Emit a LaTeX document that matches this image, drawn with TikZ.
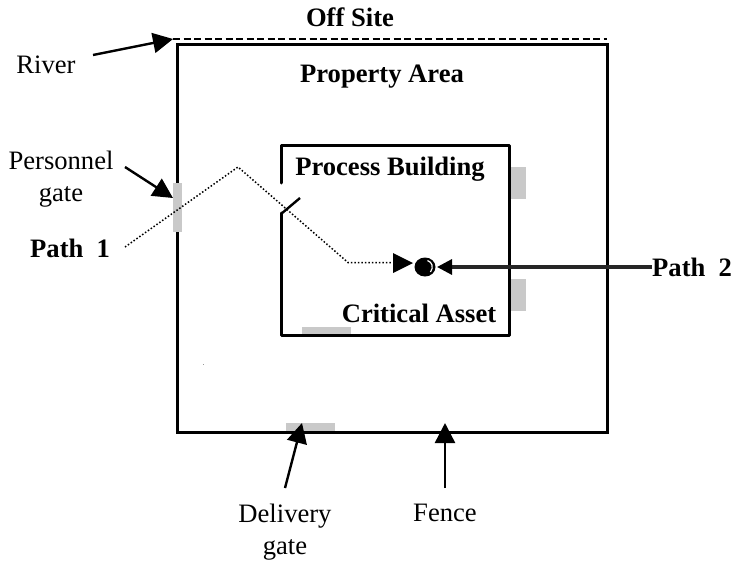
\documentclass[tikz,border=0pt]{standalone}
\usepackage{fontspec}
\setmainfont{Liberation Serif}
\usetikzlibrary{arrows.meta,shapes.geometric}
\tikzset{
  x=1pt,y=-1pt,
  lbl/.style={font=\fontsize{26.6}{30}\selectfont,inner sep=0pt,align=center},
  blbl/.style={font=\fontsize{26.6}{30}\selectfont\bfseries,inner sep=0pt,align=center},
  wall/.style={draw=black,line width=2.6pt},
  gatebox/.style={fill=black!21,draw=none},
  pointer/.style={draw=black,line width=2.4pt,-{Triangle[length=20pt,width=20pt]}},
  route/.style={draw=black,line width=1.5pt,dash pattern=on 1.5pt off 2pt},
}
\begin{document}
\begin{tikzpicture}
\useasboundingbox (0,0) rectangle (734,562);
% labels
\node[blbl] (offsite) at (350,17) {Off Site};
\node[lbl] (river) at (46,65) {River};
\node[blbl] (property) at (382,77) {Property Area};
\node[lbl] (personnel) at (61,179) {Personnel\\[2pt]gate};
\node[blbl,anchor=west] (path1) at (30,248) {Path\ \ 1};
\node[blbl] (process) at (390,169) {Process Building};
\node[blbl] (asset) at (419,313) {Critical Asset};
\node[blbl,anchor=west] (path2) at (652,267) {Path\ \ 2};
\node[lbl] (delivery) at (285,532) {Delivery\\[2pt]gate};
\node[lbl] (fencelbl) at (445,513) {Fence};
% coordinates
\coordinate (rivera) at (173,39);
\coordinate (riverb) at (607,39);
\coordinate (riverstart) at (93,55);
\coordinate (pstart) at (125,167);
\coordinate (ptip) at (173,198);
\coordinate (dstart) at (285,488);
\coordinate (dtip) at (302,423);
\coordinate (fstart) at (445,488);
\coordinate (ftip) at (445,423);
\coordinate (r0) at (125,247);
\coordinate (r1) at (238,167);
\coordinate (r2) at (348,262.5);
\coordinate (r3) at (391,262.5);
\coordinate (r4) at (413,263);
\coordinate (p2tip) at (437,267);
% fence and building
\draw[wall] (177.5,44.5) rectangle (607.5,432.5);
\draw[wall,line width=3pt,line cap=round,line join=round] (281.5,183) -- (281.5,145.5) -- (509.5,145.5) -- (509.5,335.5) -- (281.5,335.5) -- (281.5,213);
\draw[draw=black,line width=2.4pt] (281,214) -- (300,198);
% gates
\fill[gatebox] (173,183) rectangle (182,232);
\fill[gatebox] (511,167) rectangle (526,199);
\fill[gatebox] (511,279) rectangle (526,311);
\fill[gatebox] (302,327) rectangle (351,334);
\fill[gatebox] (286,423) rectangle (335,431);
\fill[black!40] (202.5,363.5) rectangle (204,365);
% river
\draw[draw=black,line width=1.5pt,dash pattern=on 7pt off 3.5pt] (rivera) -- (riverb);
% pointers
\draw[pointer] (riverstart) -- (rivera);
\draw[pointer] (pstart) -- (ptip);
\draw[pointer] (dstart) -- (dtip);
\draw[pointer] (fstart) -- (ftip);
% paths
\draw[route] (r0) -- (r1) -- (r2) -- (r3);
\draw[draw=none,fill=black] (393,253) -- (r4) -- (393,273) -- cycle;
\draw[draw=black!85,line width=3.2pt,-{Triangle[length=15pt,width=15pt,black]}] (path2.west) -- (p2tip);
% asset
\node[ellipse,fill=black,minimum width=21pt,minimum height=19pt,inner sep=0pt,outer sep=0pt] (target) at (425,267) {};
\draw[white,line width=1.2pt] (427.5,260.5) .. controls (432,262) and (434,267) .. (430.5,272);
\end{tikzpicture}
\end{document}
